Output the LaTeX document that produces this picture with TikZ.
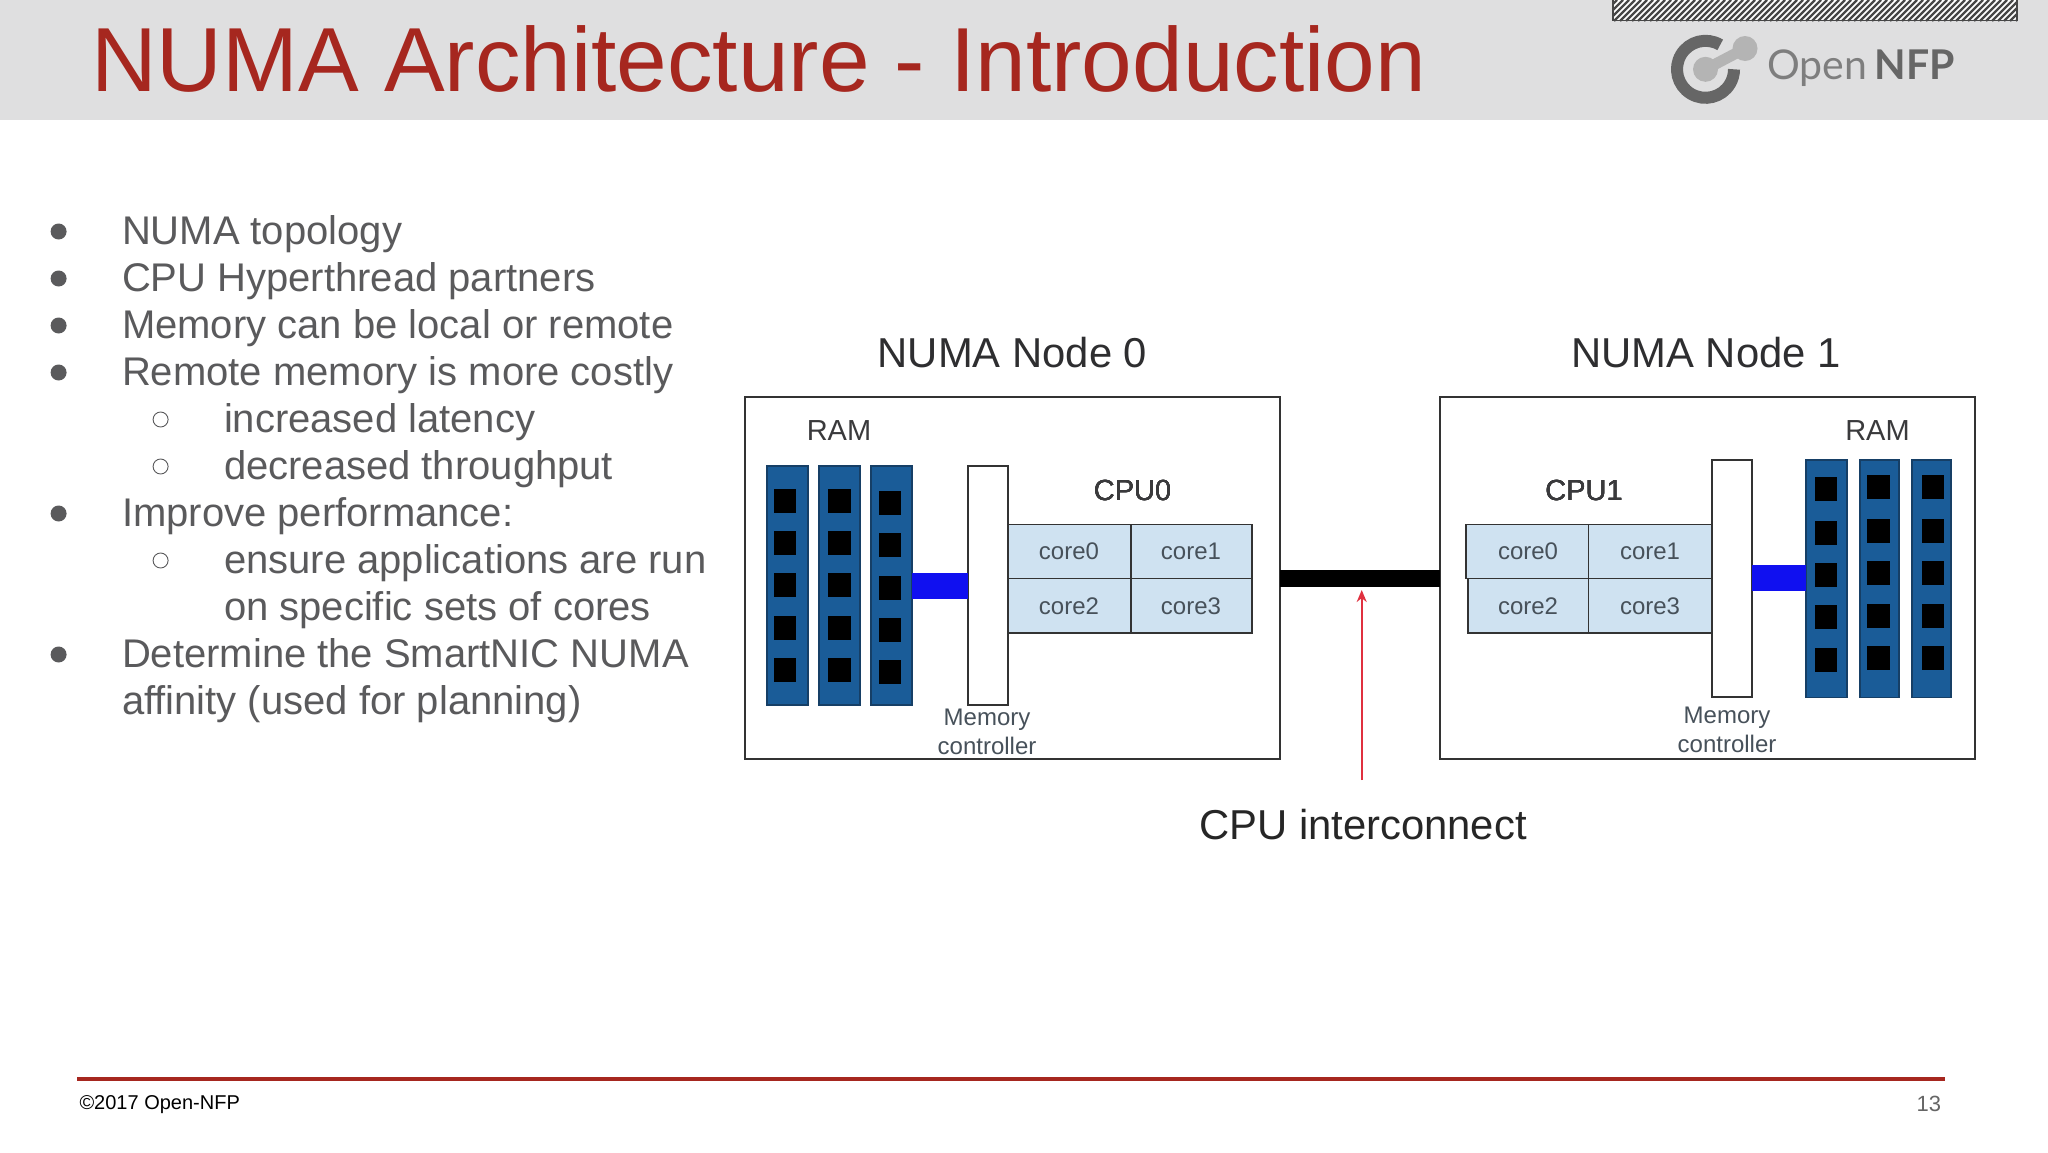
\documentclass[tikz,border=0pt]{standalone}
\usepackage{fontspec}
\setmainfont{Liberation Sans}
\newfontfamily\logofont{Lato}
\usetikzlibrary{arrows.meta}
\definecolor{band}{HTML}{DFDFE0}
\definecolor{titlered}{HTML}{A6271F}
\definecolor{bodygrey}{HTML}{5A5A5C}
\definecolor{labelgrey}{HTML}{3A3A3C}
\definecolor{coretext}{HTML}{47515A}
\definecolor{stick}{HTML}{1A5C98}
\definecolor{stickline}{HTML}{163F66}
\definecolor{corefill}{HTML}{CFE2F1}
\definecolor{frameline}{HTML}{333333}
\definecolor{linkblue}{HTML}{1010F0}
\definecolor{arrowred}{HTML}{E0303F}
\definecolor{logodark}{HTML}{666666}
\definecolor{logomid}{HTML}{7E7E7E}
\definecolor{logolight}{HTML}{B4B4B4}
\newcommand{\rnode}[6]{\node[#2, anchor=north west, inner sep=0pt, outer sep=0pt, minimum width={(#5-#3)*1pt}, minimum height={(#6-#4)*1pt}] (#1) at (#3,#4) {};}
\tikzset{
  txt/.style={inner sep=0pt, outer sep=0pt, anchor=base},
  txtl/.style={inner sep=0pt, outer sep=0pt, anchor=base west},
  item/.style={txtl, text=bodygrey, font=\fontsize{40}{47}\selectfont},
  head/.style={txt, text=labelgrey!80!black, font=\fontsize{41.8}{47}\selectfont},
  ramlab/.style={txt, text=labelgrey, font=\fontsize{29}{32}\selectfont},
  corelab/.style={txt, text=coretext, font=\fontsize{24}{28}\selectfont},
  frame/.style={draw=frameline, line width=2pt, fill=white},
  ram/.style={draw=stickline, line width=1.5pt, fill=stick},
  chip/.style={fill=black},
  mc/.style={draw=frameline, line width=2pt, fill=white},
  core/.style={draw=frameline, line width=1.6pt, fill=corefill},
  memlink/.style={draw=linkblue, line width=26pt},
  interlink/.style={draw=black, line width=17pt},
  redarrow/.style={draw=arrowred, line width=2pt, -{Stealth[length=12pt,width=10pt]}},
  bul/.style={circle, fill=bodygrey, minimum size=16pt, inner sep=0pt},
  sbul/.style={circle, draw=bodygrey, line width=0.9pt, minimum size=15pt, inner sep=0pt},
}
\begin{document}
\begin{tikzpicture}[x=1pt,y=-1pt]
\useasboundingbox (0,0) rectangle (2048,1152);
\fill[white] (0,0) rectangle (2048,1152);
% header band
\fill[band] (0,0) rectangle (2048,120);
\node[txtl, text=titlered, font=\fontsize{91}{100}\selectfont] (title) at (91,91) {NUMA Architecture - Introduction};
% hatched strip
\begin{scope}
\clip (1613,0) rectangle (2017,21);
\fill[white] (1613,0) rectangle (2017,21);
\foreach \hx in {1590,1596,...,2020} \draw[line width=2.2pt, draw=logodark!70!black] (\hx,21) -- (\hx+21,0);
\end{scope}
\draw[line width=1.6pt, draw=logodark!70!black] (1613,0) -- (1613,20.5) -- (2017,20.5) -- (2017,0);
% logo
\coordinate (lc) at (1705.5,69.3);
\coordinate (lb) at (1745,48.5);
\draw[line width=11pt, draw=logolight, line cap=round] (lc) -- (lb);
\fill[logolight] (lc) circle[radius=12.5];
\fill[logolight] (lb) circle[radius=12.5];
\draw[line width=12pt, draw=logodark] ([shift={(-59:28.5)}]lc) arc[start angle=-59, end angle=-360, radius=28.5];
\node[txtl, text=logomid, font=\logofont\fontsize{41}{42}\selectfont] (logo) at (1767,79.3) {Open\kern 8pt{\bfseries\color{logodark}NFP}};
% bullet list
\foreach \by/\bt in {244/{NUMA topology},291/{CPU Hyperthread partners},338/{Memory can be local or remote},385/{Remote memory is more costly},526/{Improve performance:},667/{Determine the SmartNIC NUMA}} {
  \node[bul] at (58.6,\by-12.5) {};
  \node[item] at (122,\by) {\bt};
}
\foreach \by/\bt in {432/{increased latency},479/{decreased throughput},573/{ensure applications are run}} {
  \node[sbul] at (160.6,\by-12.5) {};
  \node[item] at (224,\by) {\bt};
}
\node[item] (l1) at (224,620) {on specific sets of cores};
\node[item] (l2) at (122,714) {affinity (used for planning)};
% frames
\rnode{n0}{frame}{744.5}{397}{1280}{759}
\rnode{n1}{frame}{1440}{397}{1975}{759}
\node[head] (h0) at (1012.5,367) {NUMA Node 0};
\node[head] (h1) at (1706,367) {NUMA Node 1};
% left node
\node[ramlab] (ram0) at (839,440.5) {RAM};
\rnode{s00}{ram}{767}{466}{808}{705}
\rnode{s01}{ram}{819}{466}{860}{705}
\rnode{s02}{ram}{871}{466}{912}{705}
\foreach \cy in {488.7,531,573.3,615.7,658.3} {
  \rnode{}{chip}{774}{\cy}{796}{\cy+24}
  \rnode{}{chip}{828}{\cy}{850.5}{\cy+24}
}
\foreach \cy in {491,533.3,575.7,618,660.3} \rnode{}{chip}{878.5}{\cy}{900.7}{\cy+24}
\rnode{mc0}{mc}{968}{466}{1008}{705}
\rnode{c00}{core}{1008}{524.3}{1131}{578.3}
\rnode{c01}{core}{1131}{524.3}{1252}{578.3}
\rnode{c02}{core}{1008}{578.3}{1131}{632.7}
\rnode{c03}{core}{1131}{578.3}{1252}{632.7}
\node[ramlab] (cpu0) at (1132.5,500) {CPU0};
\node[corelab] at (1069,559) {core0};
\node[corelab] at (1191,559) {core1};
\node[corelab] at (1069,614) {core2};
\node[corelab] at (1191,614) {core3};
\node[corelab] (m0a) at (987,725) {Memory};
\node[corelab] (m0b) at (987,754) {controller};
\coordinate (ml0) at (0,586.3);
\draw[memlink] (s02.east |- ml0) -- (mc0.west |- ml0);
% right node
\node[ramlab] (ram1) at (1877.5,440.5) {RAM};
\rnode{s10}{ram}{1806}{460}{1847}{697.5}
\rnode{s11}{ram}{1860}{460}{1899}{697.5}
\rnode{s12}{ram}{1912}{460}{1951}{697.5}
\foreach \cy in {477,520.7,563,605.3,647.7} \rnode{}{chip}{1815}{\cy}{1837}{\cy+24}
\foreach \cy in {475,519,561.3,603.7,646} {
  \rnode{}{chip}{1867.4}{\cy}{1889.6}{\cy+24}
  \rnode{}{chip}{1921.7}{\cy}{1944}{\cy+24}
}
\rnode{c10}{core}{1466}{524.3}{1588.4}{578.3}
\rnode{c11}{core}{1588.4}{524.3}{1712}{578.3}
\rnode{c12}{core}{1468}{578.3}{1588.4}{632.7}
\rnode{c13}{core}{1588.4}{578.3}{1712}{632.7}
\rnode{mc1}{mc}{1711.6}{460}{1752}{696.7}
\node[ramlab] (cpu1) at (1584,500) {CPU1};
\node[corelab] at (1528,559) {core0};
\node[corelab] at (1650,559) {core1};
\node[corelab] at (1528,614) {core2};
\node[corelab] at (1650,614) {core3};
\node[corelab] (m1a) at (1727,723.3) {Memory};
\node[corelab] (m1b) at (1727,752.3) {controller};
\coordinate (ml1) at (0,578.3);
\draw[memlink] (mc1.east |- ml1) -- (s10.west |- ml1);
% interconnect
\coordinate (ic) at (0,578.3);
\draw[interlink] (n0.east |- ic) -- (n1.west |- ic);
\coordinate (rt) at (1361.7,780);
\coordinate (rh) at (1361.7,590);
\draw[redarrow] (rt) -- (rh);
\node[head, text=black!85] (iclab) at (1363,839.3) {CPU interconnect};
% footer
\coordinate (f0) at (77,1079.3);
\coordinate (f1) at (1945,1079.3);
\draw[line width=4pt, draw=titlered] (f0) -- (f1);
\node[txtl, text=black, font=\fontsize{20}{24}\selectfont] (copy) at (79.5,1109) {©2017 Open-NFP};
\node[txtl, text=logodark, font=\fontsize{22}{24}\selectfont] (page) at (1916.5,1111.7) {13};
\end{tikzpicture}
\end{document}
